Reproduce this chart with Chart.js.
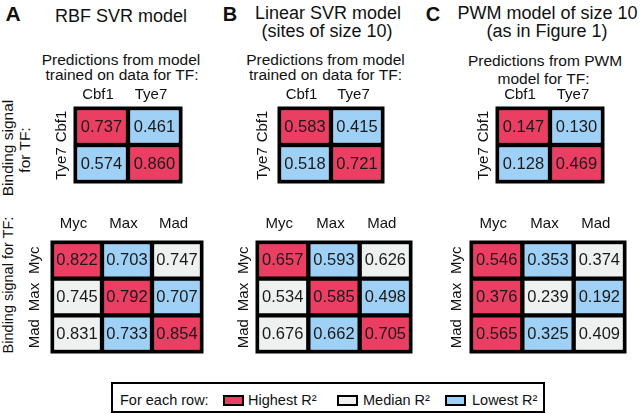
<!DOCTYPE html>
<html>
<head>
<meta charset="utf-8">
<script src="https://cdn.jsdelivr.net/npm/chart.js@4.4.1/dist/chart.umd.min.js"></script>
<style>
  html, body { margin: 0; padding: 0; background: #fff; }
  body { width: 643px; height: 414px; position: relative; overflow: hidden;
         font-family: "Liberation Sans", Arial, Helvetica, sans-serif; color: #111; }
  .t { position: absolute; white-space: nowrap; line-height: 1; transform: translate(-50%, -50%); }
  .rot { transform: translate(-50%, -50%) rotate(-90deg); }
  canvas { position: absolute; }
  #legend { position: absolute; left: 111px; top: 382px; width: 434px; height: 31px;
            box-sizing: border-box; border: 2px solid #000; border-top-width: 2.5px; }
  .sw { position: absolute; width: 21px; height: 11px; box-sizing: border-box; border: 2px solid #000; }
  .lt { position: absolute; white-space: nowrap; line-height: 1; font-size: 14.5px; transform: translateY(-50%); }
</style>
</head>
<body>

<div class="t" style="left:13px;top:13px;font-size:21px;font-weight:bold;">A</div>
<div class="t" style="left:121px;top:15.5px;font-size:18px;">RBF SVR model</div>
<div class="t" style="left:121px;top:59.5px;font-size:15.5px;">Predictions from model</div>
<div class="t" style="left:122px;top:75px;font-size:15.5px;">trained on data for TF:</div>

<div class="t" style="left:230px;top:13.5px;font-size:20px;font-weight:bold;">B</div>
<div class="t" style="left:328px;top:12.5px;font-size:18px;">Linear SVR model</div>
<div class="t" style="left:327px;top:30.5px;font-size:18px;">(sites of size 10)</div>
<div class="t" style="left:325.5px;top:60px;font-size:15.5px;">Predictions from model</div>
<div class="t" style="left:325.5px;top:75px;font-size:15.5px;">trained on data for TF:</div>

<div class="t" style="left:433px;top:14px;font-size:20px;font-weight:bold;">C</div>
<div class="t" style="left:547.5px;top:12.5px;font-size:18px;">PWM model of size 10</div>
<div class="t" style="left:547px;top:30.5px;font-size:18px;">(as in Figure 1)</div>
<div class="t" style="left:545px;top:60.5px;font-size:15.5px;">Predictions from PWM</div>
<div class="t" style="left:543.5px;top:78.5px;font-size:15.5px;">model for TF:</div>

<div class="t rot" style="left:8px;top:148px;font-size:15.5px;">Binding signal</div>
<div class="t rot" style="left:25px;top:150px;font-size:15.5px;">for TF:</div>
<div class="t rot" style="left:8px;top:285px;font-size:14.5px;">Binding signal for TF:</div>

<canvas id="rbfTopChart"></canvas>
<canvas id="linTopChart"></canvas>
<canvas id="pwmTopChart"></canvas>
<canvas id="rbfBottomChart"></canvas>
<canvas id="linBottomChart"></canvas>
<canvas id="pwmBottomChart"></canvas>

<div id="legend"></div>
<div class="lt" style="left:120px;top:400px;">For each row:</div>

<script>
'use strict';

// TF names (columns = model TF, rows = binding signal TF)
var tfsTop = ['Cbf1', 'Tye7'];
var tfsBottom = ['Myc', 'Max', 'Mad'];

// R² values, one array per row
var rbfTop = [[0.737, 0.461], [0.574, 0.860]];
var rbfBottom = [[0.822, 0.703, 0.747], [0.745, 0.792, 0.707], [0.831, 0.733, 0.854]];
var linTop = [[0.583, 0.415], [0.518, 0.721]];
var linBottom = [[0.657, 0.593, 0.626], [0.534, 0.585, 0.498], [0.676, 0.662, 0.705]];
var pwmTop = [[0.147, 0.130], [0.128, 0.469]];
var pwmBottom = [[0.546, 0.353, 0.374], [0.376, 0.239, 0.192], [0.565, 0.325, 0.409]];

var legendLabels = ['Highest R\u00b2', 'Median R\u00b2', 'Lowest R\u00b2'];

var RED = '#eb3e63', MID = '#eff0f0', BLUE = '#9fd0f5';
var FONT = '"Liberation Sans", Arial, Helvetica, sans-serif';

// highest of the row red, lowest blue, the rest grey
function rowColors(row){
  var max = Math.max.apply(null, row), min = Math.min.apply(null, row);
  return row.map(function(v){
    if (v === max) return RED;
    if (v === min) return BLUE;
    return MID;
  });
}

// Values in the cells, black frame, column names and rotated row names
var cellText = {
  id: 'cellText',
  afterDatasetsDraw: function(chart, args, opts){
    var ctx = chart.ctx, a = chart.chartArea;
    var xs = chart.scales.x, ys = chart.scales.y;
    ctx.save();
    ctx.lineWidth = 1.5;
    ctx.strokeStyle = '#000';
    ctx.strokeRect(a.left - 0.75, a.top - 0.75, a.right - a.left + 1.5, a.bottom - a.top + 1.5);

    ctx.textAlign = 'center';
    ctx.textBaseline = 'middle';
    ctx.fillStyle = '#1a1a1a';
    ctx.font = '16.5px ' + FONT;
    chart.data.datasets.forEach(function(ds, r){
      ds.values.forEach(function(v, c){
        ctx.fillText(v.toFixed(3), xs.getPixelForValue(c), ys.getPixelForValue(r) + 0.5);
      });
    });

    ctx.fillStyle = '#111';
    ctx.font = '15px ' + FONT;
    chart.data.labels.forEach(function(name, c){
      ctx.fillText(name, xs.getPixelForValue(c) - 3.5, a.top - opts.colGap);
    });
    opts.rows.forEach(function(name, r){
      ctx.save();
      ctx.translate(a.left - opts.gap, ys.getPixelForValue(r));
      ctx.rotate(-Math.PI / 2);
      ctx.fillText(name, 0, 0);
      ctx.restore();
    });
    ctx.restore();
  }
};

// L,T,R,B = pixel box of the cell grid on the page
function heatmap(id, L, T, R, B, tfs, values, colGap, gap){
  var canvas = document.getElementById(id);
  var w = R - L + 34, h = B - T + 34;
  canvas.width = w;
  canvas.height = h;
  canvas.style.left = (L - 30) + 'px';
  canvas.style.top = (T - 30) + 'px';
  canvas.style.width = w + 'px';
  canvas.style.height = h + 'px';

  new Chart(canvas, {
    type: 'bar',
    data: {
      labels: tfs,
      datasets: tfs.map(function(name, r){
        return {
          label: name,
          values: values[r],
          data: tfs.map(function(){ return [r - 0.5, r + 0.5]; }),
          backgroundColor: rowColors(values[r]),
          borderColor: '#000',
          borderWidth: 2.5,
          borderSkipped: false,
          grouped: false,
          barPercentage: 1,
          categoryPercentage: 1
        };
      })
    },
    options: {
      responsive: false,
      animation: false,
      layout: { padding: { left: 30, top: 30, right: 4, bottom: 4 } },
      plugins: {
        legend: { display: false },
        tooltip: { enabled: false },
        cellText: { rows: tfs, gap: gap, colGap: colGap }
      },
      scales: {
        x: { display: false },
        y: { type: 'linear', display: false, min: -0.5, max: tfs.length - 0.5, reverse: true }
      }
    },
    plugins: [cellText]
  });
}

heatmap('rbfTopChart', 75, 108, 181, 182, tfsTop, rbfTop, 13, 13);
heatmap('linTopChart', 279, 108, 383, 182, tfsTop, linTop, 13, 16);
heatmap('pwmTopChart', 497, 108, 603, 182, tfsTop, pwmTop, 13, 13);
heatmap('rbfBottomChart', 52, 242, 202, 352, tfsBottom, rbfBottom, 18, 17);
heatmap('linBottomChart', 257, 242, 411, 352, tfsBottom, linBottom, 18, 13.5);
heatmap('pwmBottomChart', 471, 242, 625, 352, tfsBottom, pwmBottom, 18, 14.5);

// legend
var swatchX = [223, 337, 445], textX = [248, 363, 472], swatchCol = [RED, MID, BLUE];
legendLabels.forEach(function(txt, i){
  var sw = document.createElement('div');
  sw.className = 'sw';
  sw.style.left = swatchX[i] + 'px';
  sw.style.top = '395px';
  sw.style.background = swatchCol[i];
  document.body.appendChild(sw);
  var lt = document.createElement('div');
  lt.className = 'lt';
  lt.style.left = textX[i] + 'px';
  lt.style.top = '400px';
  lt.textContent = txt;
  document.body.appendChild(lt);
});
</script>
</body>
</html>
